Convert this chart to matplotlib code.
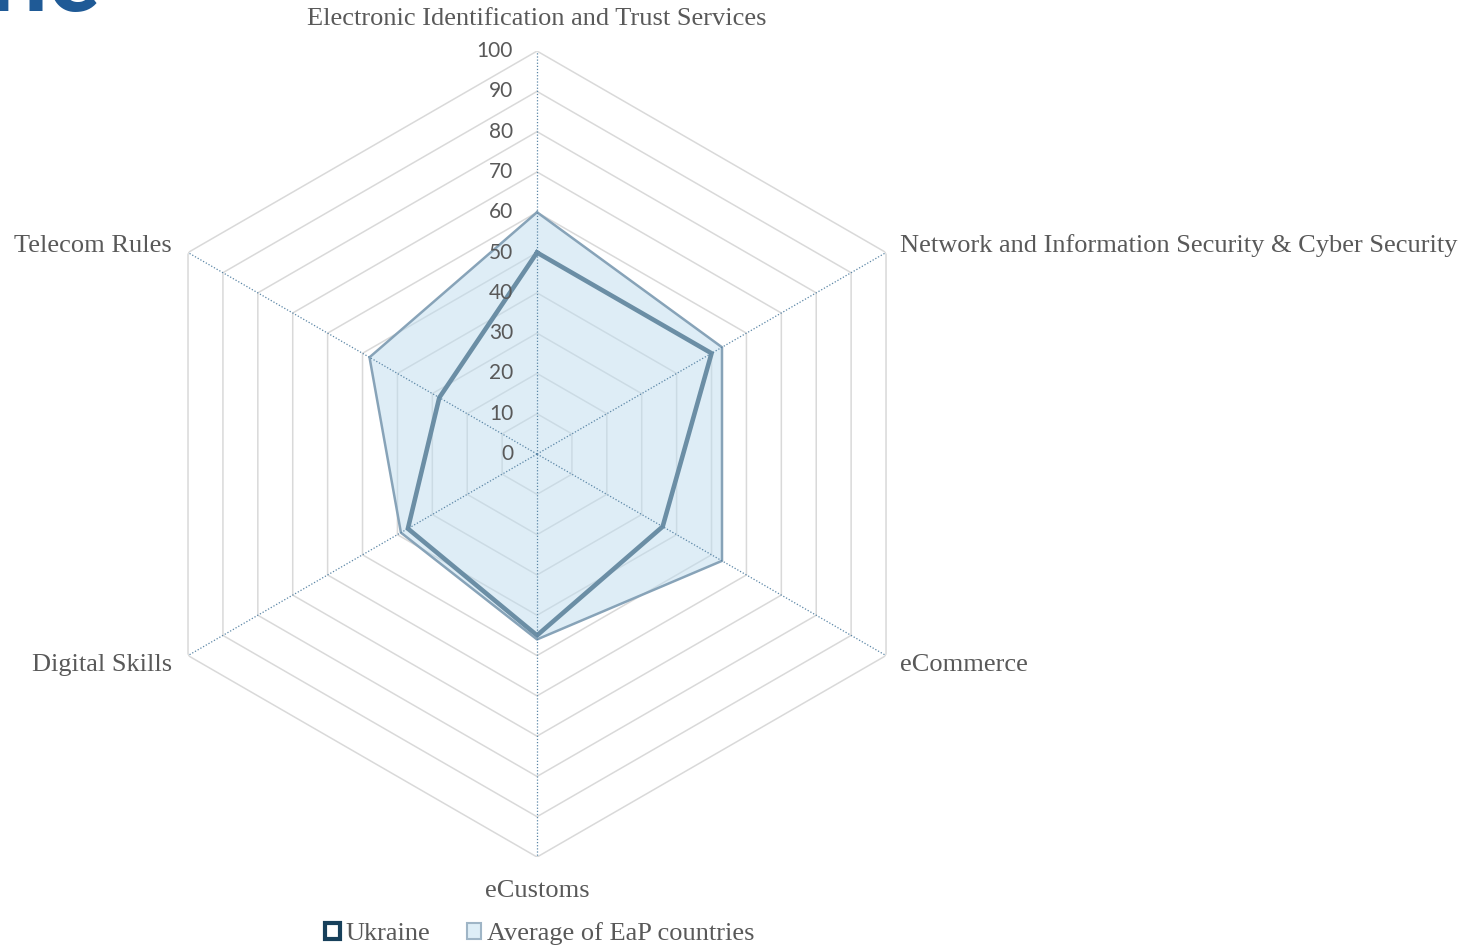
import numpy as np
import matplotlib
matplotlib.use('Agg')
import matplotlib.pyplot as plt
from matplotlib.patches import Patch

# data
categories = ['Electronic Identification and Trust Services',
              'Network and Information Security & Cyber Security',
              'eCommerce', 'eCustoms', 'Digital Skills', 'Telecom Rules']
ukraine = [50, 50, 36, 45, 37, 28]
average = [60, 53, 53, 46, 39, 48]
ticks = [0, 10, 20, 30, 40, 50, 60, 70, 80, 90, 100]

n = len(categories)
angles = np.linspace(0, 2 * np.pi, n, endpoint=False)
closed = np.append(angles, angles[0])

fig = plt.figure(figsize=(14.79, 9.49), dpi=100)
ax = fig.add_axes([0.0906, 0.0969, 0.545, 0.8493], projection='polar')
ax.set_theta_offset(np.pi / 2)
ax.set_theta_direction(-1)
ax.set_ylim(0, 100)
ax.grid(False)
ax.spines['polar'].set_visible(False)
ax.set_xticks([])
ax.set_yticks([])
ax.patch.set_alpha(0)

# hexagon grid
for t in ticks[1:]:
    ax.plot(closed, [t] * (n + 1), color='#d9d9d9', lw=1.1, zorder=1)

# series
ax.plot(closed, ukraine + ukraine[:1], color='#17405b', lw=3.3, zorder=2,
        solid_joinstyle='miter')
ax.fill(closed, average + average[:1], facecolor='#bfddef', alpha=0.5, zorder=3)
ax.plot(closed, average + average[:1], color='#87a3b8', lw=1.8, zorder=4)

# spokes
for a in angles:
    ax.plot([a, a], [0, 100], color='#5b86a6', lw=0.9, ls=(0, (1, 1.5)), zorder=5)

# radial labels
for t in ticks:
    ax.annotate(str(t), xy=(0, t), xytext=(-24, 0), textcoords='offset pixels',
                ha='right', va='center', fontsize=15, family='Lato',
                color='#595959', zorder=6)

# category labels
offsets = [(0, 32, 'center'), (14, 7, 'left'), (14, -9, 'left'),
           (0, -34, 'center'), (-16, -9, 'right'), (-16, 7, 'right')]
for a, lab, (dx, dy, ha) in zip(angles, categories, offsets):
    ax.annotate(lab, xy=(a, 100), xytext=(dx, dy), textcoords='offset pixels',
                ha=ha, va='center', fontsize=19, family='Liberation Serif',
                color='#595959', annotation_clip=False)

# legend
handles = [Patch(facecolor='white', edgecolor='#17405b', linewidth=3),
           Patch(facecolor='#deeef7', edgecolor='#9fb5c6', linewidth=1.5)]
fig.legend(handles, ['Ukraine', 'Average of EaP countries'], loc='center',
           bbox_to_anchor=(0.365, 0.016), ncol=2, frameon=False,
           prop={'family': 'Liberation Serif', 'size': 19},
           handlelength=0.55, handleheight=0.55, handletextpad=0.2,
           columnspacing=1.4, labelcolor='#595959')

# cut-off title fragment in the corner
fig.text(-0.008, 0.988, 'nc', fontsize=76, fontweight='bold', family='Lato',
         color='#1f5a96', ha='left', va='baseline')

plt.savefig('out.png', dpi=100)
